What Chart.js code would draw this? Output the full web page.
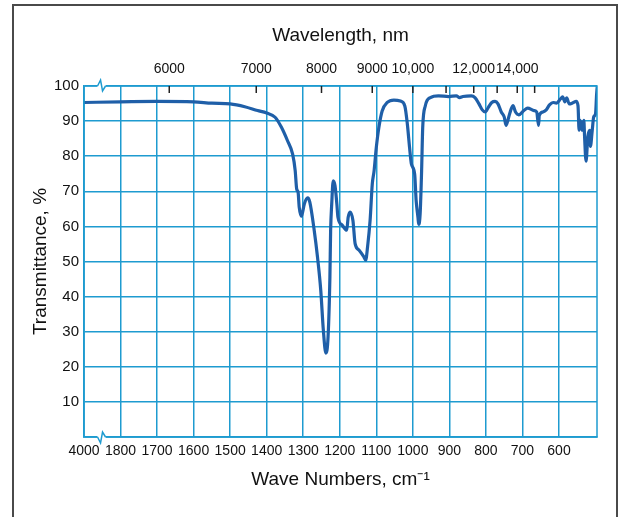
<!DOCTYPE html>
<html>
<head>
<meta charset="utf-8">
<script src="https://cdn.jsdelivr.net/npm/chart.js@4/dist/chart.umd.min.js"></script>
<style>
  html, body { margin: 0; padding: 0; background: #fff; }
  canvas { display: block; }
</style>
</head>
<body>
<canvas id="chart" width="628" height="517"></canvas>
<script>
// spectrum (wave number in cm-1, transmittance in %)
const waveNumbers = [
  4000, 1800, 1700, 1600, 1550, 1500, 1460, 1425, 1400, 1377, 1360, 1343, 1329, 1322,
  1318, 1314, 1311, 1305, 1297, 1288, 1282, 1270, 1261, 1252, 1245, 1238, 1232, 1227,
  1225, 1222, 1218, 1213, 1208, 1205, 1193, 1181, 1177, 1172, 1164, 1158, 1147, 1134,
  1129, 1124, 1117, 1111, 1106, 1100, 1093, 1084, 1070, 1052, 1034, 1022, 1015, 1009,
  1004, 995, 991, 986, 984, 980, 976, 973, 966, 952, 930, 902,
  881, 872, 863, 840, 830, 819, 810, 802, 793, 784, 775, 767, 758, 750, 745, 740, 735,
  726, 719, 710, 696, 686, 668, 661, 656, 654, 644, 635, 626, 616, 607, 596, 590, 584,
  579, 572, 562, 553, 548, 545, 542, 537, 532, 530, 526, 521, 516, 514, 509, 505, 500,
  497, 495
];
const transmittance = [
  95.3, 95.5, 95.6, 95.5, 95.1, 94.9, 94.1, 93.0, 92.3, 91.1, 88.3, 84.4, 80.6, 75.9,
  70.7, 69.7, 65.5, 62.9, 66.4, 68.1, 66.9, 58.9, 51.3, 41.8, 30.5, 23.9, 28.6, 45.6,
  58.9, 66.4, 73.0, 71.6, 66.4, 62.6, 60.3, 58.9, 62.6, 64.1, 61.7, 55.1, 53.2, 51.3,
  50.4, 54.1, 61.7, 72.1, 75.9, 82.5, 88.2, 92.9, 95.3, 96.0, 95.7, 94.3, 89.1, 82.5,
  77.8, 74.9, 67.4, 62.6, 60.6, 63.6, 75.9, 88.2, 94.3, 96.7, 97.2, 97.0,
  97.2, 96.7, 97.0, 97.2, 96.7, 94.9, 93.2, 92.6, 94.0, 95.3, 95.6, 94.9, 92.6, 91.2, 88.8, 90.2, 92.1,
  94.4, 92.6, 91.8, 93.0, 93.7, 93.0, 92.6, 88.8, 91.6, 92.6, 93.2, 94.6, 95.3, 95.1, 96.3, 96.9, 95.5,
  96.6, 94.9, 95.2, 95.6, 94.4, 87.4, 90.2, 87.4, 90.2, 85.6, 78.6, 85.6, 87.4, 82.8, 87.4, 91.2, 92.1,
  97.7, 100
];

// bottom axis ticks (cm-1), 4000 sits left of the axis break
const waveTicks = [4000, 1800, 1700, 1600, 1500, 1400, 1300, 1200, 1100, 1000, 900, 800, 700, 600];
// top axis ticks (nm)
const wavelengthTicks = [6000, 7000, 8000, 9000, 10000, 11000, 12000, 13000, 14000, 15000];
const wavelengthLabels = ["6000", "7000", "8000", "9000", "10,000", "", "12,000", "", "14,000", ""];
const yTicks = [10, 20, 30, 40, 50, 60, 70, 80, 90, 100];

const gridColor = "#1e9bd0";
const lineColor = "#1f5fa8";
const FONT = "'Liberation Sans', Arial, sans-serif";

// 4000..1800 is squeezed into one grid cell (the axis break)
const axisPos = (wn) => (wn > 1800 ? 1800 + ((wn - 1800) * 100) / 2200 : wn);
const X_MIN = 496;
const X_MAX = 1900;

const points = waveNumbers.map((wn, i) => ({ x: axisPos(wn), y: transmittance[i] }));

const decor = {
  id: "decor",
  beforeDraw(chart) {
    const ctx = chart.ctx;
    ctx.save();
    ctx.fillStyle = "#fff";
    ctx.fillRect(0, 0, chart.width, chart.height);
    // outer frame
    ctx.strokeStyle = "#4a4a4a";
    ctx.lineWidth = 2;
    ctx.strokeRect(13, 5, 604, 560);
    ctx.restore();
  },
  afterDatasetsDraw(chart) {
    const ctx = chart.ctx;
    const a = chart.chartArea;
    const xb = chart.scales.x;
    const xt = chart.scales.xTop;
    ctx.save();
    // plot frame
    ctx.strokeStyle = gridColor;
    ctx.lineWidth = 1.5;
    ctx.strokeRect(a.left, a.top, a.right - a.left, a.bottom - a.top);

    // axis break symbols
    const bx = xb.getPixelForValue(1852);
    ctx.fillStyle = "#fff";
    ctx.fillRect(bx - 4, a.top - 1.5, 8, 3);
    ctx.fillRect(bx - 4, a.bottom - 1.5, 8, 3);
    ctx.beginPath();
    ctx.moveTo(bx - 4, a.top);
    ctx.lineTo(bx - 1, a.top - 6);
    ctx.lineTo(bx + 1, a.top + 5);
    ctx.lineTo(bx + 4, a.top);
    ctx.moveTo(bx - 4, a.bottom);
    ctx.lineTo(bx - 1, a.bottom + 6);
    ctx.lineTo(bx + 1, a.bottom - 5);
    ctx.lineTo(bx + 4, a.bottom);
    ctx.stroke();

    // wavelength tick marks, pointing inward
    ctx.strokeStyle = "#222";
    ctx.lineWidth = 1.5;
    wavelengthTicks.forEach((nm) => {
      const px = xt.getPixelForValue(1e7 / nm);
      ctx.beginPath();
      ctx.moveTo(px, a.top);
      ctx.lineTo(px, a.top + 7);
      ctx.stroke();
    });
    ctx.restore();
  },
};

new Chart(document.getElementById("chart"), {
  type: "line",
  data: {
    datasets: [
      {
        data: points,
        borderColor: lineColor,
        borderWidth: 3.2,
        pointRadius: 0,
        cubicInterpolationMode: "monotone",
        fill: false,
      },
    ],
  },
  options: {
    responsive: false,
    animation: false,
    layout: { padding: { left: 0, right: 31, top: 0, bottom: 0 } },
    plugins: { legend: { display: false }, tooltip: { enabled: false } },
    scales: {
      x: {
        type: "linear",
        position: "bottom",
        min: X_MIN,
        max: X_MAX,
        reverse: true,
        afterBuildTicks: (s) => {
          s.ticks = waveTicks.map((v) => ({ value: axisPos(v) }));
        },
        afterFit: (s) => {
          s.height = 80;
        },
        ticks: {
          autoSkip: false,
          maxRotation: 0,
          padding: 6,
          color: "#111",
          font: { family: FONT, size: 14 },
          callback: (v, i) => String(waveTicks[i]),
        },
        grid: { color: gridColor, lineWidth: 1.5, drawTicks: false },
        border: { color: gridColor, width: 1.5 },
        title: {
          display: true,
          text: "Wave Numbers, cm\u207B\u00B9",
          color: "#111",
          font: { family: FONT, size: 19 },
          padding: { top: 0, bottom: 26 },
        },
      },
      xTop: {
        type: "linear",
        position: "top",
        min: X_MIN,
        max: X_MAX,
        reverse: true,
        afterBuildTicks: (s) => {
          s.ticks = wavelengthTicks.map((nm) => ({ value: 1e7 / nm }));
        },
        afterFit: (s) => {
          s.height = 86;
        },
        ticks: {
          autoSkip: false,
          maxRotation: 0,
          padding: 8,
          color: "#111",
          font: { family: FONT, size: 14 },
          callback: (v, i) => wavelengthLabels[i],
        },
        grid: { drawOnChartArea: false, drawTicks: false },
        border: { display: false },
        title: {
          display: true,
          text: "Wavelength, nm",
          color: "#111",
          font: { family: FONT, size: 19 },
          padding: { top: 24, bottom: 0 },
        },
      },
      y: {
        min: 0,
        max: 100,
        afterBuildTicks: (s) => {
          s.ticks = [0].concat(yTicks).map((v) => ({ value: v }));
        },
        afterFit: (s) => {
          s.width = 84;
        },
        ticks: {
          autoSkip: false,
          padding: 5,
          color: "#111",
          font: { family: FONT, size: 15 },
          callback: (v) => (v === 0 ? "" : String(v)),
        },
        grid: { color: gridColor, lineWidth: 1.5, drawTicks: false },
        border: { color: gridColor, width: 1.5 },
        title: {
          display: true,
          text: "Transmittance, %",
          color: "#111",
          font: { family: FONT, size: 19 },
          padding: { top: 29, bottom: 0 },
        },
      },
    },
  },
  plugins: [decor],
});
</script>
</body>
</html>
